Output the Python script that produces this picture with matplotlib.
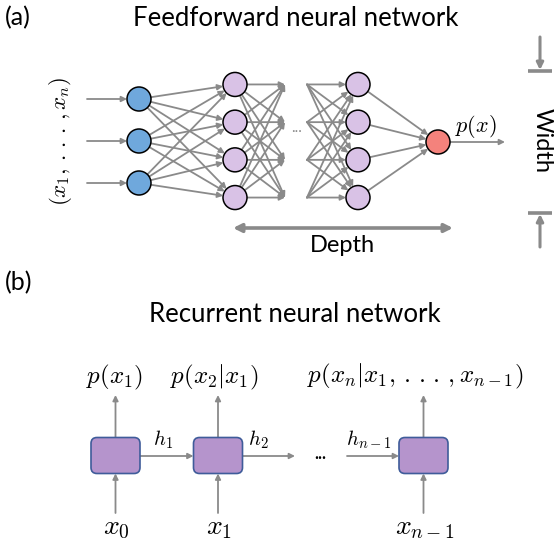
import numpy as np
import matplotlib.pyplot as plt
from matplotlib.patches import Circle, FancyArrowPatch, FancyBboxPatch

plt.rcParams['mathtext.fontset'] = 'cm'
plt.rcParams['font.family'] = ['Lato', 'DejaVu Sans']

# feedforward net: nodes per layer (input, hidden, ..., hidden, output)
layer_sizes = [3, 4, 4, 1]
layer_colors = ['#6fa8dc', '#d9c2e6', '#d9c2e6', '#f4827c']
input_label = r'$(x_1,\,.\,.\,.\,,x_n)$'
output_label = r'$p(x)$'

# recurrent net: one cell per step
rnn_inputs = [r'$x_0$', r'$x_1$', r'$x_{n-1}$']
rnn_outputs = [r'$p(x_1)$', r'$p(x_2|x_1)$',
               r'$p(x_n|x_1,\,.\,.\,.\,,x_{n-1})$']
rnn_hidden = [r'$h_1$', r'$h_2$', r'$h_{n-1}$']

GREY = '#8a8a8a'
R = 12  # node radius in px

fig = plt.figure(figsize=(5.55, 5.42), dpi=100)
ax = fig.add_axes([0, 0, 1, 1])
ax.set_xlim(0, 555)
ax.set_ylim(542, 0)
ax.axis('off')


def arrow(p0, p1, lw=1.3, ms=8, style='-|>', color=GREY):
    a = FancyArrowPatch(p0, p1, arrowstyle=style, mutation_scale=ms,
                        lw=lw, color=color, shrinkA=0, shrinkB=0, zorder=1)
    ax.add_patch(a)


def edge(a, b, ra=R, rb=R):
    a, b = np.array(a, float), np.array(b, float)
    d = (b - a) / np.linalg.norm(b - a)
    arrow(a + ra * d, b - rb * d)


# ---- (a) feedforward ----
layer_x = [139, 235, 358, 438]
yc = 141
spacing = {3: 42, 4: 37.7, 1: 0}
layers = []
for x, n in zip(layer_x, layer_sizes):
    ys = yc + (np.arange(n) - (n - 1) / 2) * spacing[n]
    if n == 1:
        ys = ys + 1
    layers.append([(x, y) for y in ys])

# inputs into first layer
for (x, y) in layers[0]:
    arrow((87, y), (x - R, y))

# dense connections
for a in layers[0]:
    for b in layers[1]:
        edge(a, b)
for a in layers[2]:
    for b in layers[3]:
        edge(a, b)

# hidden layers fading into the "..." gap
gap_l, gap_r = 285, 307
for a in layers[1]:
    for b in layers[1]:
        edge(a, (gap_l, b[1]), rb=0)
for a in layers[2]:
    for b in layers[2]:
        edge((gap_r, b[1]), a, ra=0)
ax.text(297, 128, '...', ha='center', va='center', fontsize=11, color=GREY)

for pts, col in zip(layers, layer_colors):
    for (x, y) in pts:
        ax.add_patch(Circle((x, y), R, fc=col, ec='black', lw=1.1, zorder=3))

ox, oy = layers[3][0]
arrow((ox + R, oy), (505, oy))
ax.text(476, 126, output_label, ha='center', va='center', fontsize=16)
ax.text(60, 141, input_label, ha='center', va='center', fontsize=16.5,
        rotation=90)

# depth and width markers
arrow((233, 228), (453, 228), lw=2.6, ms=12, style='<|-|>')
ax.text(342, 246, 'Depth', ha='center', va='center', fontsize=17)
wx = 540
arrow((wx, 37), (wx, 70), lw=2.2, ms=10)
ax.plot([528, 552], [71, 71], color=GREY, lw=2.6, solid_capstyle='butt')
arrow((wx, 247), (wx, 214), lw=2.2, ms=10)
ax.plot([528, 552], [213, 213], color=GREY, lw=2.6, solid_capstyle='butt')
ax.text(542, 141, 'Width', ha='center', va='center', fontsize=17,
        rotation=-90)

ax.text(5, 18, '(a)', ha='left', va='center', fontsize=18)
ax.text(296, 18, 'Feedforward neural network', ha='center', va='center',
        fontsize=18.5)

# ---- (b) recurrent ----
ax.text(5, 283, '(b)', ha='left', va='center', fontsize=18)
ax.text(295, 315, 'Recurrent neural network', ha='center', va='center',
        fontsize=18.5)

cell_x = [115.5, 218, 423.5]
cy, bw, bh = 455.5, 49, 36
for i, x in enumerate(cell_x):
    ax.add_patch(FancyBboxPatch((x - bw / 2, cy - bh / 2), bw, bh,
                                boxstyle='round,pad=0,rounding_size=6',
                                fc='#b594cc', ec='#3f5c9a', lw=1.2, zorder=3))
    arrow((x, cy - bh / 2), (x, 395))
    arrow((x, 513), (x, cy + bh / 2))
    ax.text(x + 1, 528, rnn_inputs[i], ha='center', va='center', fontsize=20)

ax.text(115, 377, rnn_outputs[0], ha='center', va='center', fontsize=18)
ax.text(214, 377, rnn_outputs[1], ha='center', va='center', fontsize=18)
ax.text(415, 376, rnn_outputs[2], ha='center', va='center', fontsize=18)

hy = 456
arrow((cell_x[0] + bw / 2, hy), (cell_x[1] - bw / 2, hy))
arrow((cell_x[1] + bw / 2, hy), (295, hy))
arrow((347, hy), (cell_x[2] - bw / 2, hy))
ax.text(163, 440, rnn_hidden[0], ha='center', va='center', fontsize=15)
ax.text(258, 440, rnn_hidden[1], ha='center', va='center', fontsize=15)
ax.text(369, 440, rnn_hidden[2], ha='center', va='center', fontsize=15)
ax.text(320, 454, '...', ha='center', va='center', fontsize=12,
        fontweight='bold')

fig.savefig('out.png', dpi=100)
